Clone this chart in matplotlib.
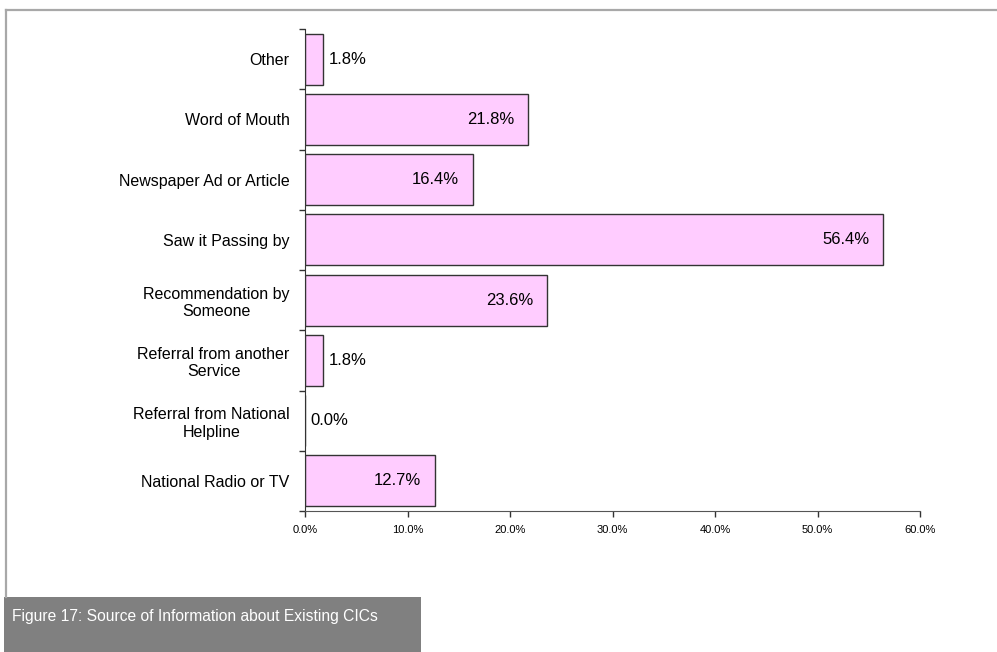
import matplotlib

matplotlib.use("Agg")
import matplotlib.pyplot as plt
import numpy as np
from matplotlib.patches import Rectangle
from matplotlib.lines import Line2D

# bottom to top, as drawn
categories = [
    "National Radio or TV",
    "Referral from National\nHelpline",
    "Referral from another\nService",
    "Recommendation by\nSomeone",
    "Saw it Passing by",
    "Newspaper Ad or Article",
    "Word of Mouth",
    "Other",
]
values = [12.7, 0.0, 1.8, 23.6, 56.4, 16.4, 21.8, 1.8]
xticks = [0, 10, 20, 30, 40, 50, 60]
caption = "Figure 17: Source of Information about Existing CICs"

_FILL = "#FFCCFF"
_EDGE = "#333333"

plt.rcParams["font.family"] = ["Liberation Sans", "DejaVu Sans"]

fig = plt.figure(figsize=(9.97, 6.52), dpi=100)
W, H = 997, 652

# page frame: gray top and left rules, caption box
fig.add_artist(Line2D([6 / W, 1.0], [1 - 10 / H, 1 - 10 / H], color="#a8a8a8",
                      lw=1.6, transform=fig.transFigure))
fig.add_artist(Line2D([6 / W, 6 / W], [1 - 10 / H, 1 - 597 / H], color="#a8a8a8",
                      lw=1.6, transform=fig.transFigure))
fig.add_artist(Rectangle((4 / W, 0), (421 - 4) / W, (652 - 597) / H,
                         color="#808080", transform=fig.transFigure, lw=0))
cap = fig.text(12 / W, 1 - 617 / H, caption, color="white", fontsize=13,
               va="center", ha="left")
# shrink the caption so it ends where the original (condensed font) does
r = fig.canvas.get_renderer()
w = cap.get_window_extent(r).width
cap.set_fontsize(13 * 364 / w)

ax = fig.add_axes([305 / W, 1 - 511 / H, (920 - 305) / W, (511 - 29) / H])
y = np.arange(len(categories))
ax.barh(y, values, height=0.85, color=_FILL, edgecolor=_EDGE, linewidth=1.0)

for yi, v in zip(y, values):
    label = f"{v:.1f}%"
    if v >= 5:
        ax.annotate(label, (v, yi), xytext=(-10, 0), textcoords="offset points",
                    ha="right", va="center", fontsize=12)
    else:
        ax.annotate(label, (v, yi), xytext=(4, 0), textcoords="offset points",
                    ha="left", va="center", fontsize=12)

ax.set_xlim(0, 60)
ax.set_ylim(-0.5, len(categories) - 0.5)
ax.set_xticks(xticks)
ax.set_xticklabels([f"{t:.1f}%" for t in xticks], fontsize=8)
ax.set_yticks(np.arange(len(categories) + 1) - 0.5)
ax.set_yticklabels([])
ax.set_yticks(y, minor=True)
ax.set_yticklabels(categories, minor=True, fontsize=11.5, multialignment="center")
ax.tick_params(axis="y", which="minor", length=0, pad=11)
ax.tick_params(axis="y", which="major", length=4, width=1, color="#333333")
ax.tick_params(axis="x", length=4, width=1, color="#333333", pad=6)

for s in ("top", "right"):
    ax.spines[s].set_visible(False)
ax.spines["left"].set_color("#333333")
ax.spines["bottom"].set_color("#555555")

fig.savefig("out.png", dpi=100)
